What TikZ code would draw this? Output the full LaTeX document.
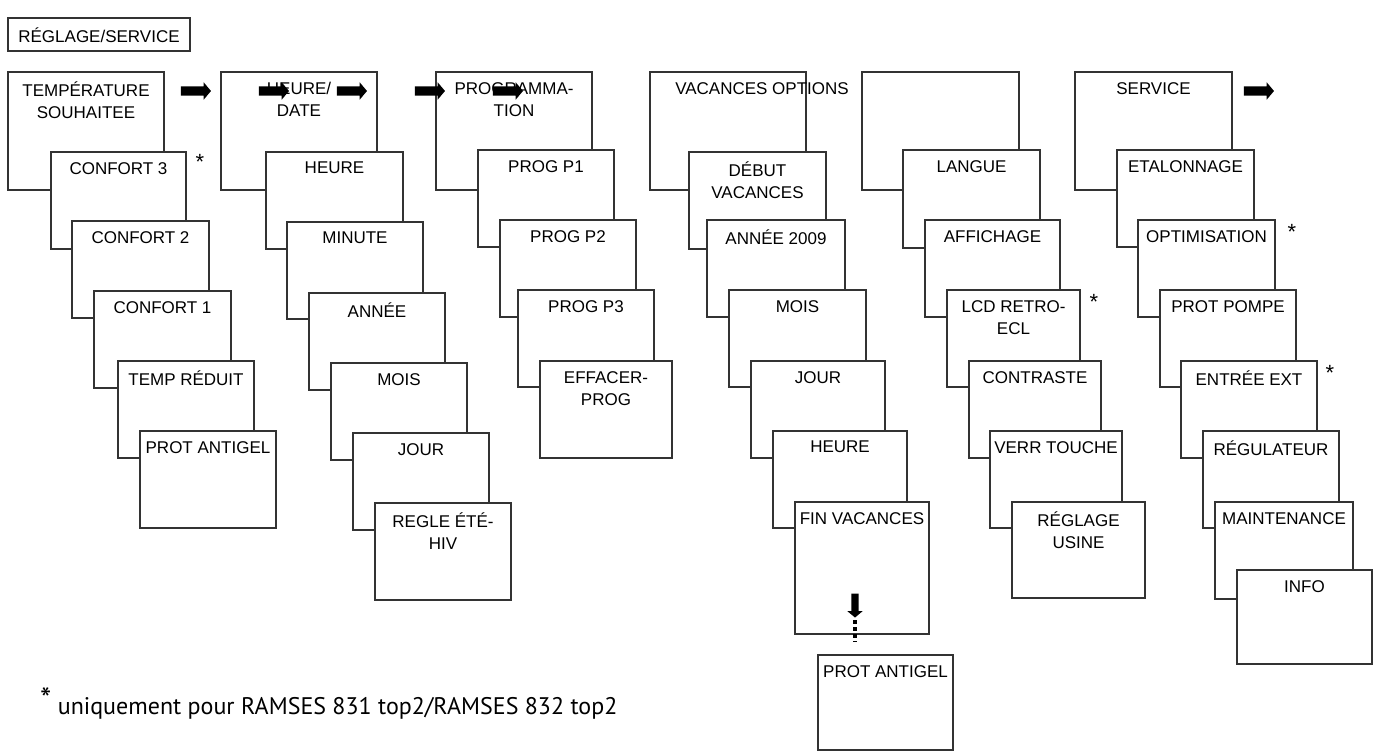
\documentclass[tikz,border=0pt]{standalone}
\usepackage{fontspec}
\setmainfont{Liberation Sans}
\newfontfamily\notefont{PT Sans}
\usetikzlibrary{shapes.arrows}
\newcommand{\bx}[6]{%
  \draw[box] (#2,#3) rectangle ++(#4,#5);
  \node[lbl] (#1) at ({#2+#4/2},{#3+10}) {#6};}
\begin{document}
\begin{tikzpicture}[x=1pt,y=-1pt,
  box/.style={draw=black!80,line width=1.3pt,fill=white},
  lbl/.style={anchor=north,align=center,font=\fontsize{17}{22}\selectfont,inner sep=0pt},
  fat/.style={single arrow,fill=black,draw=none,minimum height=30pt,inner xsep=0pt,inner ysep=4.5pt,single arrow head extend=4pt,single arrow tip angle=100},
  star/.style={font=\fontsize{22}{22}\selectfont,inner sep=0pt}]
\useasboundingbox (0,0) rectangle (1376,751);
\bx{rs}{8}{18}{182}{33}{RÉGLAGE/SERVICE}
% column 1
\bx{c1}{8}{72}{156}{118}{TEMPÉRATURE\\SOUHAITEE}
\bx{c1a}{51}{152}{135}{97}{CONFORT 3}
\bx{c1b}{72}{221}{137}{97}{CONFORT 2}
\bx{c1c}{94}{291}{137}{97}{CONFORT 1}
\bx{c1d}{118}{361}{136}{97}{TEMP RÉDUIT}
\bx{c1e}{140}{431}{136}{97}{PROT ANTIGEL}
% column 2
\bx{c2}{221}{72}{156}{118}{HEURE/\\DATE}
\bx{c2a}{266}{152}{137}{97}{HEURE}
\bx{c2b}{287}{222}{136}{97}{MINUTE}
\bx{c2c}{309}{293}{136}{97}{ANNÉE}
\bx{c2d}{331}{363}{136}{97}{MOIS}
\bx{c2e}{353}{433}{136}{97}{JOUR}
\bx{c2f}{375}{503}{136}{97}{REGLE ÉTÉ-\\HIV}
% column 3
\bx{c3}{436}{72}{156}{118}{PROGRAMMA-\\TION}
\bx{c3a}{478}{150}{136}{97}{PROG P1}
\bx{c3b}{500}{220}{136}{97}{PROG P2}
\bx{c3c}{518}{290}{136}{97}{PROG P3}
\bx{c3d}{540}{361}{132}{97}{EFFACER-\\PROG}
% column 4
\draw[box] (650,72) rectangle ++(156,118);
\bx{c4a}{689}{152}{137}{97}{DÉBUT\\VACANCES}
\bx{c4b}{707}{220}{138}{97}{ANNÉE 2009}
\bx{c4c}{729}{290}{137}{97}{MOIS}
\bx{c4d}{751}{361}{134}{97}{JOUR}
\bx{c4e}{773}{431}{134}{97}{HEURE}
\bx{c4f}{795}{502}{134}{132}{FIN VACANCES}
\bx{c4g}{818}{655}{135}{95}{PROT ANTIGEL}
% column 5
\draw[box] (862,72) rectangle ++(157,118);
\bx{c5a}{903}{150}{137}{98}{LANGUE}
\bx{c5b}{925}{220}{135}{97}{AFFICHAGE}
\bx{c5c}{947}{290}{133}{97}{LCD RETRO-\\ECL}
\bx{c5d}{969}{361}{132}{97}{CONTRASTE}
\bx{c5e}{990}{431}{132}{97}{VERR TOUCHE}
\bx{c5f}{1012}{502}{133}{96}{RÉGLAGE\\USINE}
% column 6
\bx{c6}{1075}{72}{157}{118}{SERVICE}
\bx{c6a}{1117}{150}{137}{97}{ETALONNAGE}
\bx{c6b}{1138}{220}{137}{97}{OPTIMISATION}
\bx{c6c}{1160}{290}{136}{97}{PROT POMPE}
\bx{c6d}{1181}{361}{136}{97}{ENTRÉE EXT}
\bx{c6e}{1203}{431}{136}{97}{RÉGULATEUR}
\bx{c6f}{1215}{502}{138}{97}{MAINTENANCE}
\bx{c6g}{1237}{570}{135}{94}{INFO}
% top labels that overflow
\node[lbl] (c4) at (762,82) {VACANCES OPTIONS};
% fat arrows
\node[fat] (a1) at (194,91) {};
\node[fat] (a2) at (272,91) {};
\node[fat] (a3) at (350,91) {};
\node[fat] (a4) at (428,91) {};
\node[fat] (a5) at (506,91) {};
\node[fat] (a6) at (1257,91) {};
\node[fat,rotate=-90,minimum height=24pt,inner ysep=3.5pt] (ad) at (855,604) {};
\coordinate (d1) at (855,620);
\coordinate (d2) at (855,642);
\draw[line width=3.5pt,dash pattern=on 4pt off 3pt] (d1) -- (d2);
% stars
\node[star] (s1) at (200,162) {*};
\node[star] (s2) at (1292,232) {*};
\node[star] (s3) at (1094,302) {*};
\node[star] (s4) at (1330,373) {*};
% footnote
\node[anchor=west,inner sep=0pt,font=\notefont\fontsize{24}{28}\selectfont] (fn) at (40,703)
  {\raisebox{4pt}{\fontsize{32}{32}\selectfont *} uniquement pour RAMSES 831 top2/RAMSES 832 top2};
\end{tikzpicture}
\end{document}
